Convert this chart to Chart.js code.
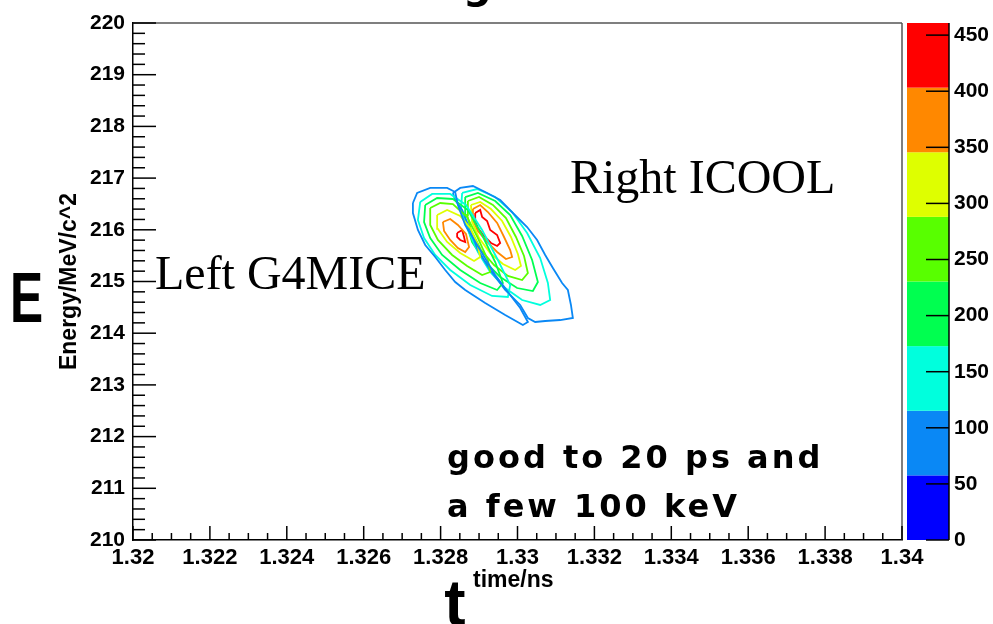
<!DOCTYPE html>
<html><head><meta charset="utf-8">
<script src="https://cdn.jsdelivr.net/npm/chart.js@4/dist/chart.umd.min.js"></script>
<style>html,body{margin:0;padding:0;background:#fff;overflow:hidden}#wrap{width:993px;height:624px}</style>
</head><body><div id="wrap"><canvas id="c" width="993" height="624"></canvas></div>
<script>
// ---- axis ticks / labels ----
const xTickValues = [1.32,1.322,1.324,1.326,1.328,1.33,1.332,1.334,1.336,1.338,1.34];
const xTickLabels = ['1.32','1.322','1.324','1.326','1.328','1.33','1.332','1.334','1.336','1.338','1.34'];
const yTickValues = [210,211,212,213,214,215,216,217,218,219,220];
const yTickLabels = ['210','211','212','213','214','215','216','217','218','219','220'];
const zTickValues = [0,50,100,150,200,250,300,350,400,450];
const zTickLabels = ['0','50','100','150','200','250','300','350','400','450'];
const zMax = 460.8;
const contourLevels = [57.6,115.2,172.8,230.4,288,345.6,403.2];
const paletteColors = ['#0000ff','#0a88f5','#00ffdd','#00ff50','#58ff00','#deff00','#ff8800','#ff0000'];

// ---- G4MICE contours (time/ns, Energy/MeV) ----
const g4mice_c1 = [[1.32728,216.518],[1.32739,216.712],[1.32773,216.809],[1.32817,216.809],[1.32838,216.731],[1.32845,216.480],[1.32864,216.093],[1.32903,215.609],[1.32942,215.126],[1.32981,214.739],[1.33007,214.488],[1.33027,214.217],[1.33014,214.159],[1.32968,214.352],[1.32916,214.584],[1.32864,214.836],[1.32838,214.990],[1.32812,215.223],[1.32786,215.474],[1.32760,215.706],[1.32741,215.996],[1.32728,216.325]];
const g4mice_c2 = [[1.32747,216.538],[1.32778,216.693],[1.32825,216.693],[1.32866,216.480],[1.32908,215.996],[1.32949,215.416],[1.32981,214.932],[1.32975,214.700],[1.32934,214.720],[1.32877,214.932],[1.32825,215.223],[1.32786,215.513],[1.32757,215.841],[1.32741,216.190]];
const g4mice_c3 = [[1.32760,216.480],[1.32791,216.615],[1.32832,216.596],[1.32871,216.383],[1.32908,215.899],[1.32942,215.377],[1.32962,214.971],[1.32947,214.836],[1.32903,214.971],[1.32851,215.223],[1.32804,215.513],[1.32773,215.841],[1.32757,216.151]];
const g4mice_c4 = [[1.32773,216.422],[1.32799,216.518],[1.32832,216.499],[1.32869,216.248],[1.32897,215.841],[1.32923,215.416],[1.32929,215.184],[1.32908,215.126],[1.32869,215.300],[1.32830,215.513],[1.32793,215.803],[1.32773,216.093]];
const g4mice_c5 = [[1.32791,216.286],[1.32817,216.383],[1.32851,216.267],[1.32877,216.035],[1.32895,215.745],[1.32903,215.474],[1.32887,215.397],[1.32851,215.551],[1.32817,215.764],[1.32793,216.016]];
const g4mice_c6 = [[1.32806,216.151],[1.32825,216.209],[1.32845,216.093],[1.32866,215.919],[1.32874,215.667],[1.32864,215.571],[1.32845,215.648],[1.32825,215.803],[1.32809,215.977]];
const g4mice_c7 = [[1.32843,215.938],[1.32856,215.996],[1.32861,215.861],[1.32864,215.764],[1.32851,215.803],[1.32843,215.861]];

// ---- ICOOL contours ----
const icool_c1 = [[1.32832,216.712],[1.32851,216.809],[1.32884,216.847],[1.32921,216.712],[1.32955,216.576],[1.32988,216.325],[1.33025,216.054],[1.33051,215.803],[1.33072,215.513],[1.33092,215.261],[1.33116,214.971],[1.33131,214.836],[1.33139,214.546],[1.33144,214.294],[1.33111,214.255],[1.33072,214.236],[1.33046,214.217],[1.33027,214.294],[1.33007,214.546],[1.32968,214.836],[1.32929,215.223],[1.32897,215.609],[1.32877,215.996],[1.32856,216.383],[1.32838,216.576]];
const icool_c2 = [[1.32856,216.712],[1.32895,216.789],[1.32942,216.634],[1.32986,216.344],[1.33025,215.938],[1.33059,215.455],[1.33079,214.971],[1.33085,214.642],[1.33059,214.546],[1.33012,214.642],[1.32968,214.874],[1.32929,215.184],[1.32897,215.571],[1.32871,215.996],[1.32853,216.383]];
const icool_c3 = [[1.32864,216.634],[1.32897,216.712],[1.32942,216.557],[1.32981,216.286],[1.33012,215.880],[1.33038,215.416],[1.33053,214.990],[1.33040,214.816],[1.32999,214.874],[1.32955,215.087],[1.32916,215.377],[1.32882,215.764],[1.32864,216.190]];
const icool_c4 = [[1.32871,216.557],[1.32900,216.634],[1.32936,216.480],[1.32970,216.228],[1.32996,215.861],[1.33017,215.493],[1.33027,215.165],[1.33012,215.029],[1.32975,215.107],[1.32939,215.319],[1.32905,215.609],[1.32879,215.996],[1.32869,216.286]];
const icool_c5 = [[1.32879,216.480],[1.32903,216.538],[1.32931,216.402],[1.32960,216.170],[1.32983,215.861],[1.33001,215.532],[1.33009,215.300],[1.32994,215.223],[1.32962,215.339],[1.32929,215.551],[1.32900,215.841],[1.32882,216.151]];
const icool_c6 = [[1.32884,216.402],[1.32903,216.480],[1.32923,216.344],[1.32947,216.132],[1.32965,215.861],[1.32981,215.609],[1.32986,215.474],[1.32970,215.435],[1.32947,215.571],[1.32921,215.764],[1.32897,215.977],[1.32884,216.190]];
const icool_c7 = [[1.32890,216.325],[1.32903,216.383],[1.32908,216.248],[1.32921,216.170],[1.32929,215.996],[1.32947,215.899],[1.32955,215.745],[1.32947,215.687],[1.32931,215.745],[1.32913,215.880],[1.32897,216.035],[1.32890,216.170]];

const g4miceContours = [g4mice_c1,g4mice_c2,g4mice_c3,g4mice_c4,g4mice_c5,g4mice_c6,g4mice_c7];
const icoolContours = [icool_c1,icool_c2,icool_c3,icool_c4,icool_c5,icool_c6,icool_c7];

function makeDs(pts, k, name) {
  const data = pts.concat([pts[0]]).map(p => ({x: p[0], y: p[1]}));
  return {label: name + ' ' + contourLevels[k], data, showLine: true, borderColor: paletteColors[k+1],
          borderWidth: 1.8, pointRadius: 0, tension: 0, fill: false};
}
const datasets = [];
g4miceContours.forEach((c,k) => datasets.push(makeDs(c,k,'G4MICE')));
icoolContours.forEach((c,k) => datasets.push(makeDs(c,k,'ICOOL')));

const FONT = '"Liberation Sans", Arial, Helvetica, sans-serif';

const decor = {
  id: 'decor',
  afterDraw(chart) {
    const {ctx, chartArea: a, scales: {x, y, z}} = chart;
    ctx.save();
    const line = (x1,y1,x2,y2) => { ctx.beginPath(); ctx.moveTo(x1,y1); ctx.lineTo(x2,y2); ctx.stroke(); };
    // frame top/right
    ctx.strokeStyle = '#555'; ctx.lineWidth = 1.5;
    line(a.left, a.top, a.right, a.top); line(a.right, a.top, a.right, a.bottom);
    // axis tick marks (inward)
    ctx.strokeStyle = '#000'; ctx.lineWidth = 1.5;
    for (let i = 0; i <= 40; i++) {
      const px = x.getPixelForValue(x.min + i * (x.max - x.min) / 40);
      line(px, a.bottom, px, a.bottom - (i % 4 === 0 ? 14 : 7));
    }
    for (let i = 0; i <= 50; i++) {
      const py = y.getPixelForValue(y.min + i * (y.max - y.min) / 50);
      line(a.left, py, a.left + (i % 5 === 0 ? 23 : 12), py);
    }
    // colour bar
    const bx0 = a.right + 5, bx1 = a.right + 47;
    const edges = [0].concat(contourLevels, [zMax]);
    for (let k = 0; k < 8; k++) {
      const ya = z.getPixelForValue(edges[k]), yb = z.getPixelForValue(edges[k+1]);
      ctx.fillStyle = paletteColors[k];
      ctx.fillRect(bx0, yb, bx1 - bx0, ya - yb);
    }
    ctx.strokeStyle = '#000'; ctx.lineWidth = 1.5;
    line(bx1, z.getPixelForValue(zMax), bx1, z.getPixelForValue(0));
    zTickValues.forEach(v => { const py = z.getPixelForValue(v); line(bx1 - 23, py, bx1, py); });
    // texts
    ctx.fillStyle = '#000';
    ctx.textBaseline = 'alphabetic'; ctx.textAlign = 'left';
    ctx.font = '48px "Liberation Serif", "Times New Roman", serif';
    ctx.fillText('Left G4MICE', 155, 289);
    ctx.fillText('Right ICOOL', 570, 193);
    ctx.font = 'bold 32px "DejaVu Sans", sans-serif';
    try { ctx.letterSpacing = '3px'; } catch(e) {}
    ctx.fillText('good to 20 ps and', 447, 468);
    ctx.fillText('a few 100 keV', 447, 517);
    try { ctx.letterSpacing = '0px'; } catch(e) {}
    ctx.font = 'bold 23px ' + FONT;
    ctx.fillText('time/ns', 473, 587);
    ctx.font = 'bold 40px "DejaVu Sans", sans-serif';
    ctx.fillText('g', 463, -2);
    ctx.font = 'bold 64px ' + FONT;
    ctx.textAlign = 'center';
    ctx.fillText('t', 455, 625);
    ctx.save();
    ctx.translate(10, 322); ctx.scale(0.71, 1);
    ctx.textAlign = 'left';
    ctx.font = 'bold 70px ' + FONT;
    ctx.fillText('E', 0, 0);
    ctx.restore();
    ctx.restore();
  }
};

const tickFont = {family: FONT, size: 21, weight: 'bold'};
new Chart(document.getElementById('c').getContext('2d'), {
  type: 'scatter',
  data: {datasets},
  options: {
    responsive: false, animation: false, devicePixelRatio: 1,
    layout: {padding: {top: 23, left: 0, right: 0, bottom: 0}},
    plugins: {legend: {display: false}, tooltip: {enabled: false}},
    scales: {
      x: {type: 'linear', min: 1.32, max: 1.34,
        grid: {display: false, drawTicks: false},
        border: {display: true, color: '#000', width: 1.5},
        afterBuildTicks: s => { s.ticks = xTickValues.map(v => ({value: v})); },
        afterFit: s => { s.height = 84; },
        ticks: {autoSkip: false, maxRotation: 0, minRotation: 0, padding: 5, color: '#000',
          font: {family: FONT, size: 22, weight: 'bold'}, callback: (v, i) => xTickLabels[i]}},
      y: {type: 'linear', min: 210, max: 220,
        grid: {display: false, drawTicks: false},
        border: {display: true, color: '#000', width: 1.5},
        afterBuildTicks: s => { s.ticks = yTickValues.map(v => ({value: v})); },
        afterFit: s => { s.width = 133; },
        ticks: {padding: 8, color: '#000', font: tickFont, callback: (v, i) => yTickLabels[i]},
        title: {display: true, text: 'Energy/MeV/c^2', color: '#000', padding: {top: 56, bottom: 0},
          font: {family: FONT, size: 23, weight: 'bold'}}},
      z: {type: 'linear', position: 'right', min: 0, max: zMax,
        grid: {display: false, drawTicks: true, tickLength: 47},
        border: {display: false},
        afterBuildTicks: s => { s.ticks = zTickValues.map(v => ({value: v})); },
        afterFit: s => { s.width = 91; },
        ticks: {padding: 5, color: '#000', font: tickFont, callback: (v, i) => zTickLabels[i]}}
    }
  },
  plugins: [decor]
});
</script>
</body></html>
